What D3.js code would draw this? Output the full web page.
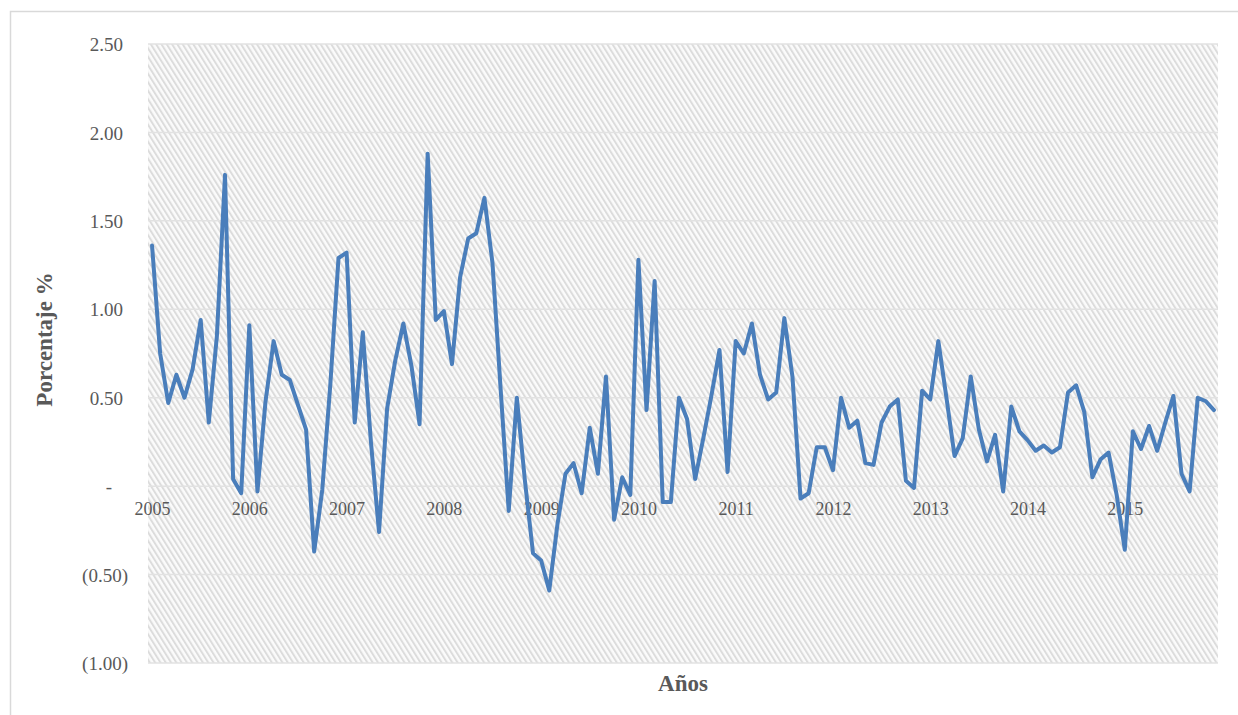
<!DOCTYPE html>
<html>
<head>
<meta charset="utf-8">
<script src="https://cdn.jsdelivr.net/npm/d3@7"></script>
<style>
  html, body { margin: 0; padding: 0; background: #ffffff; }
  svg { display: block; }
</style>
</head>
<body>
<script>
// Monthly percentage change, Jan 2005 – Dec 2015
const values2005 = [1.36, 0.75, 0.47, 0.63, 0.50, 0.66, 0.94, 0.36, 0.85, 1.76, 0.04, -0.04];
const values2006 = [0.91, -0.03, 0.48, 0.82, 0.63, 0.60, 0.46, 0.32, -0.37, -0.02, 0.58, 1.29];
const values2007 = [1.32, 0.36, 0.87, 0.25, -0.26, 0.44, 0.71, 0.92, 0.68, 0.35, 1.88, 0.94];
const values2008 = [0.99, 0.69, 1.18, 1.40, 1.43, 1.63, 1.26, 0.55, -0.14, 0.50, 0.03, -0.38];
const values2009 = [-0.42, -0.59, -0.22, 0.07, 0.13, -0.04, 0.33, 0.07, 0.62, -0.19, 0.05, -0.05];
const values2010 = [1.28, 0.43, 1.16, -0.09, -0.09, 0.50, 0.38, 0.04, 0.27, 0.51, 0.77, 0.08];
const values2011 = [0.82, 0.75, 0.92, 0.63, 0.49, 0.53, 0.95, 0.62, -0.07, -0.04, 0.22, 0.22];
const values2012 = [0.09, 0.50, 0.33, 0.37, 0.13, 0.12, 0.36, 0.45, 0.49, 0.03, -0.01, 0.54];
const values2013 = [0.49, 0.82, 0.50, 0.17, 0.27, 0.62, 0.32, 0.14, 0.29, -0.03, 0.45, 0.31];
const values2014 = [0.26, 0.20, 0.23, 0.19, 0.22, 0.53, 0.57, 0.42, 0.05, 0.15, 0.19, -0.05];
const values2015 = [-0.36, 0.31, 0.21, 0.34, 0.20, 0.36, 0.51, 0.07, -0.03, 0.50, 0.48, 0.43];

const years = ["2005", "2006", "2007", "2008", "2009", "2010", "2011", "2012", "2013", "2014", "2015"];
const yTicks = [2.5, 2.0, 1.5, 1.0, 0.5, 0, -0.5, -1.0];
const yTitle = "Porcentaje %";
const xTitle = "Años";

const series = [].concat(values2005, values2006, values2007, values2008, values2009,
  values2010, values2011, values2012, values2013, values2014, values2015);

const W = 1238, H = 715;
const plot = { left: 148, right: 1218, top: 44, bottom: 663 };
const textColor = "#595959";
const serif = "'Liberation Serif', 'Times New Roman', serif";

const svg = d3.select("body").append("svg").attr("width", W).attr("height", H);

// outer chart frame
svg.append("rect")
  .attr("x", 10.5).attr("y", 11.5)
  .attr("width", W + 10).attr("height", H + 10)
  .attr("fill", "#ffffff").attr("stroke", "#d9d9d9").attr("stroke-width", 1.5);

// diagonal hatch fill for the plot area
const defs = svg.append("defs");
const pat = defs.append("pattern")
  .attr("id", "hatch")
  .attr("patternUnits", "userSpaceOnUse")
  .attr("width", 4.5).attr("height", 10)
  .attr("patternTransform", "rotate(-32)");
pat.append("rect").attr("width", 4.5).attr("height", 10).attr("fill", "#fbfbfb");
pat.append("rect").attr("x", 0).attr("width", 2.0).attr("height", 10).attr("fill", "#dcdcdc");

const x = d3.scalePoint()
  .domain(d3.range(series.length))
  .range([plot.left, plot.right])
  .padding(0.5);

const y = d3.scaleLinear()
  .domain([-1.0, 2.5])
  .range([plot.bottom, plot.top]);

svg.append("rect")
  .attr("x", plot.left).attr("y", plot.top)
  .attr("width", plot.right - plot.left).attr("height", plot.bottom - plot.top)
  .attr("fill", "url(#hatch)");

// horizontal gridlines
svg.append("g")
  .selectAll("line")
  .data(yTicks)
  .join("line")
  .attr("x1", plot.left).attr("x2", plot.right)
  .attr("y1", d => y(d)).attr("y2", d => y(d))
  .attr("stroke", "#e2e2e2").attr("stroke-width", 1.5);

// y axis labels in accounting style
function fmt(v) {
  if (v === 0) return "-";
  const s = d3.format(".2f")(Math.abs(v));
  return v < 0 ? "(" + s + ")" : s;
}
const yAxis = d3.axisLeft(y).tickValues(yTicks).tickFormat(fmt).tickSize(0).tickPadding(0);
const gy = svg.append("g").attr("transform", `translate(${plot.left},0)`).call(yAxis);
gy.select(".domain").remove();
gy.selectAll("text")
  .attr("font-family", serif)
  .attr("font-size", 19)
  .attr("fill", textColor)
  .attr("text-anchor", "end")
  .attr("x", d => d === 0 ? -36 : (d > 0 ? -25 : -20))
  .attr("dy", "0.35em");

// x labels (years) sit just below the zero line
const janIdx = years.map((yr, i) => i * 12);
const xAxis = d3.axisBottom(x).tickValues(janIdx).tickFormat((d, i) => years[i]).tickSize(0).tickPadding(0);
const gx = svg.append("g").attr("transform", `translate(0,${y(0)})`).call(xAxis);
gx.select(".domain").remove();
gx.selectAll("text")
  .attr("font-family", serif)
  .attr("font-size", 18)
  .attr("fill", textColor)
  .attr("y", 16)
  .attr("dy", "0.71em");

// data line
const line = d3.line()
  .x((d, i) => x(i))
  .y(d => y(d));

svg.append("path")
  .datum(series)
  .attr("d", line)
  .attr("fill", "none")
  .attr("stroke", "#4a7ebb")
  .attr("stroke-width", 4)
  .attr("stroke-linejoin", "round")
  .attr("stroke-linecap", "round");

// axis titles
svg.append("text")
  .attr("transform", `translate(52,${(plot.top + plot.bottom) / 2 - 14}) rotate(-90)`)
  .attr("text-anchor", "middle")
  .attr("font-family", serif)
  .attr("font-weight", "bold")
  .attr("font-size", 23)
  .attr("fill", textColor)
  .text(yTitle);

svg.append("text")
  .attr("x", (plot.left + plot.right) / 2)
  .attr("y", 691)
  .attr("text-anchor", "middle")
  .attr("font-family", serif)
  .attr("font-weight", "bold")
  .attr("font-size", 23)
  .attr("fill", textColor)
  .text(xTitle);
</script>
</body>
</html>
